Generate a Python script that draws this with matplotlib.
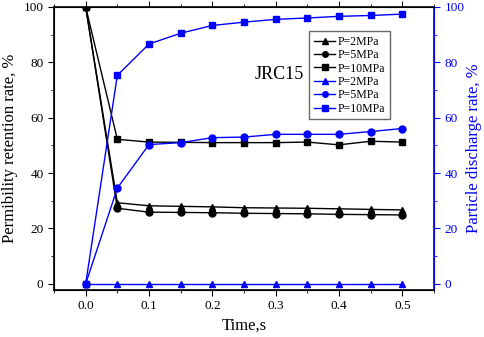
import numpy as np
import matplotlib.pyplot as plt
from matplotlib.ticker import MultipleLocator

plt.rcParams['font.family'] = 'Liberation Serif'

t = np.array([0.0, 0.05, 0.1, 0.15, 0.2, 0.25, 0.3, 0.35, 0.4, 0.45, 0.5])

# permeability retention rate (left axis)
ret_2 = [100, 29.3, 28.2, 28.0, 27.8, 27.5, 27.4, 27.3, 27.1, 26.9, 26.7]
ret_5 = [100, 27.3, 25.9, 25.8, 25.7, 25.5, 25.4, 25.3, 25.1, 25.0, 24.9]
ret_10 = [100, 52.2, 51.2, 51.1, 51.0, 51.0, 51.0, 51.2, 50.2, 51.5, 51.2]

# particle discharge rate (right axis)
dis_2 = [0, 0, 0, 0, 0, 0, 0, 0, 0, 0, 0]
dis_5 = [0, 34.6, 50.3, 51.0, 52.8, 53.0, 54.0, 54.0, 54.0, 55.0, 56.1]
dis_10 = [0, 75.3, 86.6, 90.5, 93.3, 94.5, 95.5, 96.0, 96.6, 96.9, 97.4]

fig = plt.figure(figsize=(4.84, 3.37), dpi=100)
ax = fig.add_axes([0.1116, 0.1395, 0.785, 0.84])
ax2 = ax.twinx()

ms = 5
l1, = ax.plot(t, ret_2, color='black', marker='^', markersize=ms, linewidth=1, label='P=2MPa')
l2, = ax.plot(t, ret_5, color='black', marker='o', markersize=ms, linewidth=1, label='P=5MPa')
l3, = ax.plot(t, ret_10, color='black', marker='s', markersize=ms, linewidth=1, label='P=10MPa')
l4, = ax2.plot(t, dis_2, color='blue', marker='^', markersize=ms, linewidth=1, label='P=2MPa')
l5, = ax2.plot(t, dis_5, color='blue', marker='o', markersize=ms, linewidth=1, label='P=5MPa')
l6, = ax2.plot(t, dis_10, color='blue', marker='s', markersize=ms, linewidth=1, label='P=10MPa')

ax.set_xlim(-0.05, 0.55)
ax.set_ylim(-2.2, 100)
ax2.set_ylim(-2.2, 100)

ax.set_xticks(np.arange(0, 0.51, 0.1))
ax.xaxis.set_minor_locator(MultipleLocator(0.05))
ax.set_yticks(np.arange(0, 101, 20))
ax.yaxis.set_minor_locator(MultipleLocator(10))
ax2.set_yticks(np.arange(0, 101, 20))
ax2.yaxis.set_minor_locator(MultipleLocator(10))

ax.tick_params(axis='both', which='major', direction='out', length=4, labelsize=9.5)
ax.tick_params(axis='both', which='minor', direction='out', length=2.5)
ax.tick_params(axis='x', which='both', top=True)
ax2.tick_params(axis='y', which='major', direction='out', length=4, labelsize=9.5,
                colors='blue')
ax2.tick_params(axis='y', which='minor', direction='out', length=2.5, colors='blue')
ax2.spines['right'].set_color('blue')
ax2.spines['right'].set_linewidth(1.2)
for s in ['left', 'bottom', 'top']:
    ax.spines[s].set_linewidth(1.2)

ax.set_xlabel('Time,s', fontsize=12)
ax.set_ylabel('Permibility retention rate, %', fontsize=12)
ax2.set_ylabel('Particle discharge rate, %', fontsize=12, color='blue', labelpad=1)

ax.text(0.306, 75.5, 'JRC15', fontsize=13, ha='center', va='center')

ax2.legend(handles=[l1, l2, l3, l4, l5, l6], loc='upper right',
           bbox_to_anchor=(0.884, 0.915), borderaxespad=0, fontsize=8.5,
           frameon=True, fancybox=False, edgecolor='#444444', handlelength=1.8,
           labelspacing=0.12, borderpad=0.4, handletextpad=0.2, markerscale=0.8)

fig.savefig('out.png', dpi=100)
